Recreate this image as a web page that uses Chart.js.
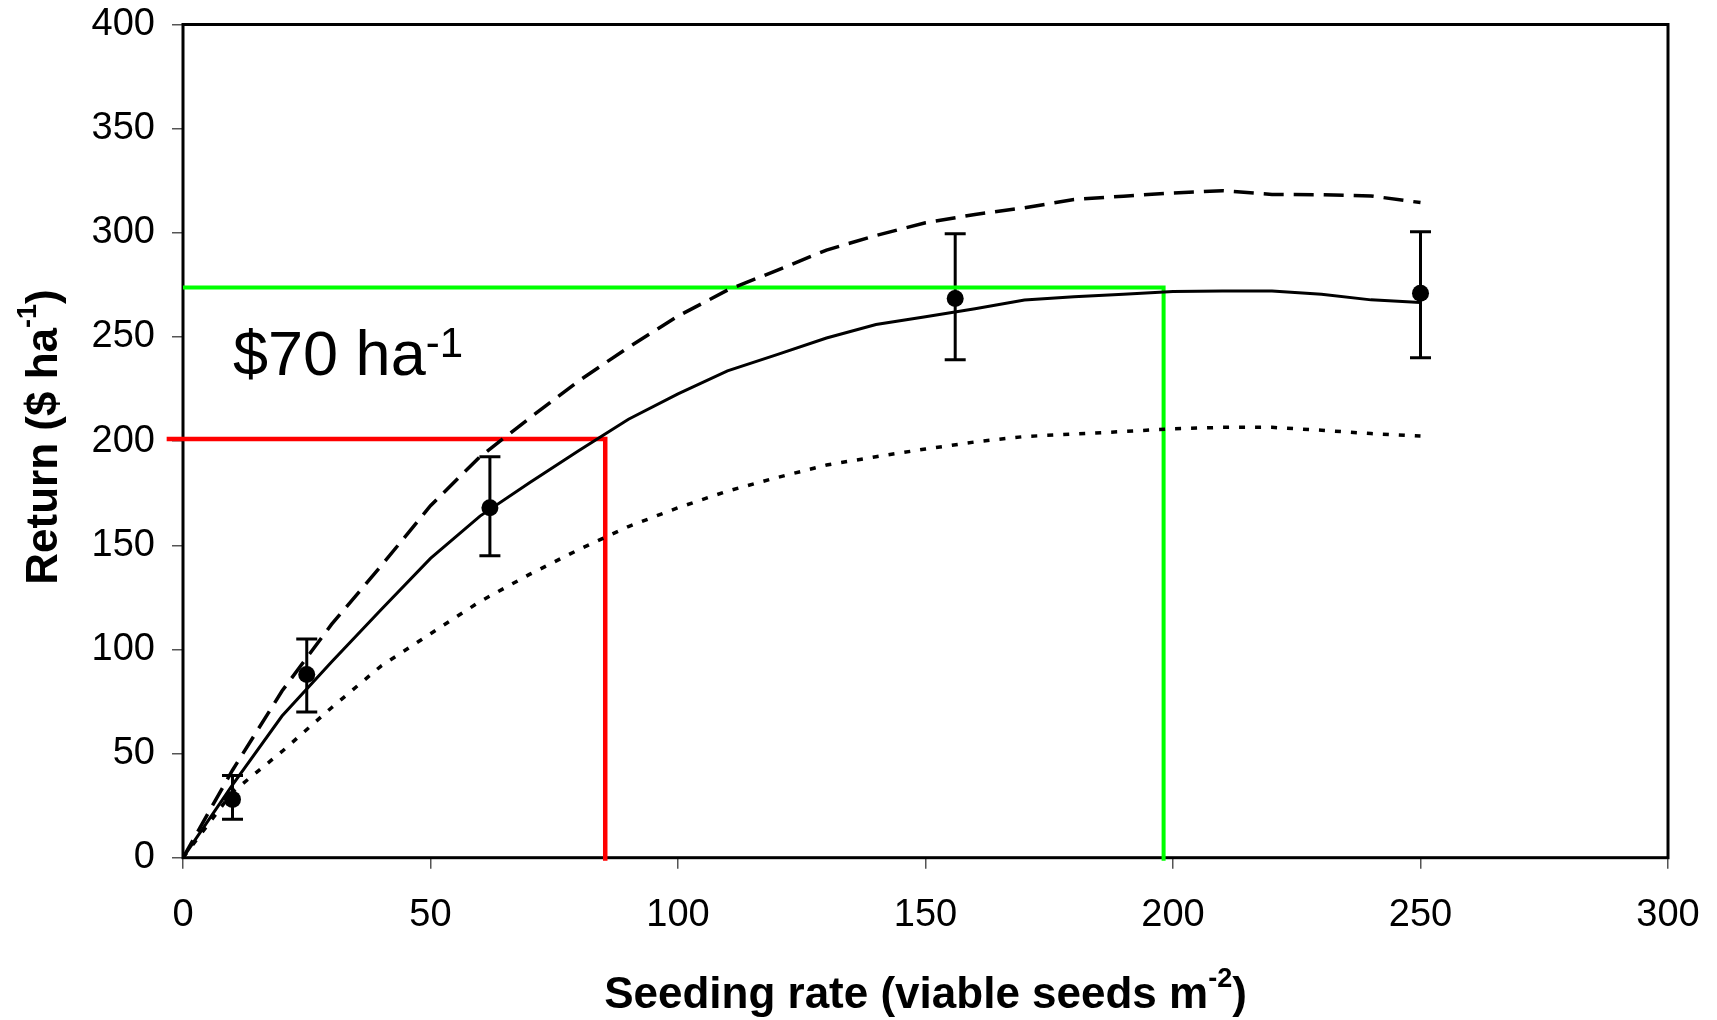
<!DOCTYPE html>
<html>
<head>
<meta charset="utf-8">
<script src="https://cdn.jsdelivr.net/npm/chart.js@4.4.1/dist/chart.umd.min.js"></script>
<style>
    body { margin: 0; background: #fff; }
    #wrap { width: 1717px; height: 1020px; }
</style>
</head>
<body>
<div id="wrap"><canvas id="chart" width="1717" height="1020"></canvas></div>
<script>
    // seeding rates for the fitted curves
    const rates = [0, 10, 20, 30, 40, 50, 60, 70, 80, 90, 100, 110, 120, 130, 140, 150, 160, 170, 180, 190, 200, 210, 220, 230, 240, 250];

    // fitted return curves ($ ha-1)
    const solidReturn  = [0, 35, 68, 94, 119, 143.7, 164, 180, 195.5, 210.5, 222.7, 233.7, 241.5, 249.5, 256, 259.7, 263.5, 267.7, 269.3, 270.5, 271.8, 272, 272, 270.5, 267.8, 266.5];
    const dashedReturn = [0, 42, 80, 112, 140, 169, 192.5, 211, 229, 245, 260, 272.5, 282, 291.7, 298.7, 304.8, 308.8, 312, 316, 317.6, 319.1, 320.2, 318.4, 318.3, 317.7, 314.5];
    const dottedReturn = [0, 31.5, 51, 72, 92, 107.5, 123, 136, 148, 159, 168, 176, 182.5, 188.5, 192.5, 196.2, 199.6, 202.2, 203.4, 204.6, 205.9, 206.6, 206.6, 205.2, 203.6, 202.4];

    // observed means with error bars
    const obsRate    = [10, 25, 62, 156, 250];
    const obsReturn  = [28, 88, 168, 268.5, 271];
    const obsErrHigh = [39.5, 105, 192.5, 299.5, 300.5];
    const obsErrLow  = [18.5, 70, 145, 239, 240];

    // guide lines
    const redX   = [-3.3, 85.3, 85.3];
    const redY   = [201, 201, -1.5];
    const greenX = [0, 198.1, 198.1];
    const greenY = [273.7, 273.7, -1.5];

    const xTicks = [0, 50, 100, 150, 200, 250, 300];
    const yTicks = [0, 50, 100, 150, 200, 250, 300, 350, 400];

    const FONT = "'Liberation Sans', Arial, Helvetica, sans-serif";

    const toXY = (xs, ys) => xs.map((x, i) => ({ x: x, y: ys[i] }));

    // draw text followed by a raised superscript
    function supText(ctx, base, sup, x, y, size, supSize, raise, weight, align) {
        ctx.font = weight + ' ' + size + 'px ' + FONT;
        const wBase = ctx.measureText(base).width;
        ctx.font = weight + ' ' + supSize + 'px ' + FONT;
        const wSup = ctx.measureText(sup[0]).width;
        ctx.font = weight + ' ' + size + 'px ' + FONT;
        const wTail = sup[1] ? ctx.measureText(sup[1]).width : 0;
        let start = x;
        if (align === 'center') start = x - (wBase + wSup + wTail) / 2;
        ctx.textAlign = 'left';
        ctx.textBaseline = 'alphabetic';
        ctx.fillText(base, start, y);
        ctx.font = weight + ' ' + supSize + 'px ' + FONT;
        ctx.fillText(sup[0], start + wBase, y - raise);
        if (sup[1]) {
            ctx.font = weight + ' ' + size + 'px ' + FONT;
            ctx.fillText(sup[1], start + wBase + wSup, y);
        }
    }

    const framePlugin = {
        id: 'frame',
        beforeDatasetsDraw(chart) {
            const { ctx, chartArea: a } = chart;
            ctx.save();
            ctx.strokeStyle = '#000';
            ctx.lineWidth = 3;
            ctx.strokeRect(a.left, a.top, a.right - a.left, a.bottom - a.top);

            // error bars
            const xs = chart.scales.x, ys = chart.scales.y;
            ctx.lineWidth = 3;
            obsRate.forEach((r, i) => {
                const px = xs.getPixelForValue(r);
                const top = ys.getPixelForValue(obsErrHigh[i]);
                const bot = ys.getPixelForValue(obsErrLow[i]);
                ctx.beginPath();
                ctx.moveTo(px, top); ctx.lineTo(px, bot);
                ctx.moveTo(px - 10.5, top); ctx.lineTo(px + 10.5, top);
                ctx.moveTo(px - 10.5, bot); ctx.lineTo(px + 10.5, bot);
                ctx.stroke();
            });
            ctx.restore();
        },
        afterDraw(chart) {
            const { ctx, chartArea: a } = chart;
            const xs = chart.scales.x, ys = chart.scales.y;
            ctx.save();
            ctx.fillStyle = '#000';
            // x title
            supText(ctx, 'Seeding rate (viable seeds m', ['-2', ')'], (a.left + a.right) / 2, 1008, 44, 27, 21, 'bold', 'center');
            // y title
            ctx.save();
            ctx.translate(57, 437);
            ctx.rotate(-Math.PI / 2);
            supText(ctx, 'Return ($ ha', ['-1', ')'], 0, 0, 44, 27, 21, 'bold', 'center');
            ctx.restore();
            // annotation
            supText(ctx, '$70 ha', ['-1'], xs.getPixelForValue(10.1), ys.getPixelForValue(231.7), 63, 42, 18, 'normal', 'left');
            ctx.restore();
        }
    };

    new Chart(document.getElementById('chart'), {
        type: 'scatter',
        data: {
            datasets: [
                {
                    data: toXY(rates, dottedReturn), showLine: true, pointRadius: 0,
                    borderColor: '#000', borderWidth: 3.5, borderDash: [6, 10], fill: false
                },
                {
                    data: toXY(rates, dashedReturn), showLine: true, pointRadius: 0,
                    borderColor: '#000', borderWidth: 3.5, borderDash: [20, 10], fill: false
                },
                {
                    data: toXY(rates, solidReturn), showLine: true, pointRadius: 0,
                    borderColor: '#000', borderWidth: 3, fill: false
                },
                {
                    data: toXY(obsRate, obsReturn), showLine: false,
                    pointRadius: 8.5, pointBackgroundColor: '#000', pointBorderWidth: 0
                },
                {
                    data: toXY(redX, redY), showLine: true, pointRadius: 0,
                    borderColor: '#ff0000', borderWidth: 4.5, fill: false, clip: false, tension: 0
                },
                {
                    data: toXY(greenX, greenY), showLine: true, pointRadius: 0,
                    borderColor: '#00ff00', borderWidth: 4, fill: false, clip: false, tension: 0
                }
            ]
        },
        options: {
            responsive: false,
            animation: false,
            events: [],
            layout: { padding: { top: 24.5, right: 49, left: 0, bottom: 0 } },
            plugins: { legend: { display: false }, tooltip: { enabled: false } },
            scales: {
                x: {
                    type: 'linear', min: 0, max: 300,
                    afterFit: (s) => { s.height = 162.3; s.paddingLeft = 0; s.paddingRight = 0; },
                    afterBuildTicks: (s) => { s.ticks = xTicks.map(v => ({ value: v })); },
                    border: { display: false },
                    grid: { drawOnChartArea: false, drawTicks: true, tickLength: 11, tickColor: '#555', lineWidth: 1.5 },
                    ticks: { color: '#000', font: { family: FONT, size: 38 }, padding: 24, maxRotation: 0 }
                },
                y: {
                    type: 'linear', min: 0, max: 400,
                    afterFit: (s) => { s.width = 183; s.paddingTop = 0; s.paddingBottom = 0; },
                    afterBuildTicks: (s) => { s.ticks = yTicks.map(v => ({ value: v })); },
                    border: { display: false },
                    grid: { drawOnChartArea: false, drawTicks: true, tickLength: 11, tickColor: '#555', lineWidth: 1.5 },
                    ticks: { color: '#000', font: { family: FONT, size: 38 }, padding: 17 }
                }
            }
        },
        plugins: [framePlugin]
    });
</script>
</body>
</html>
